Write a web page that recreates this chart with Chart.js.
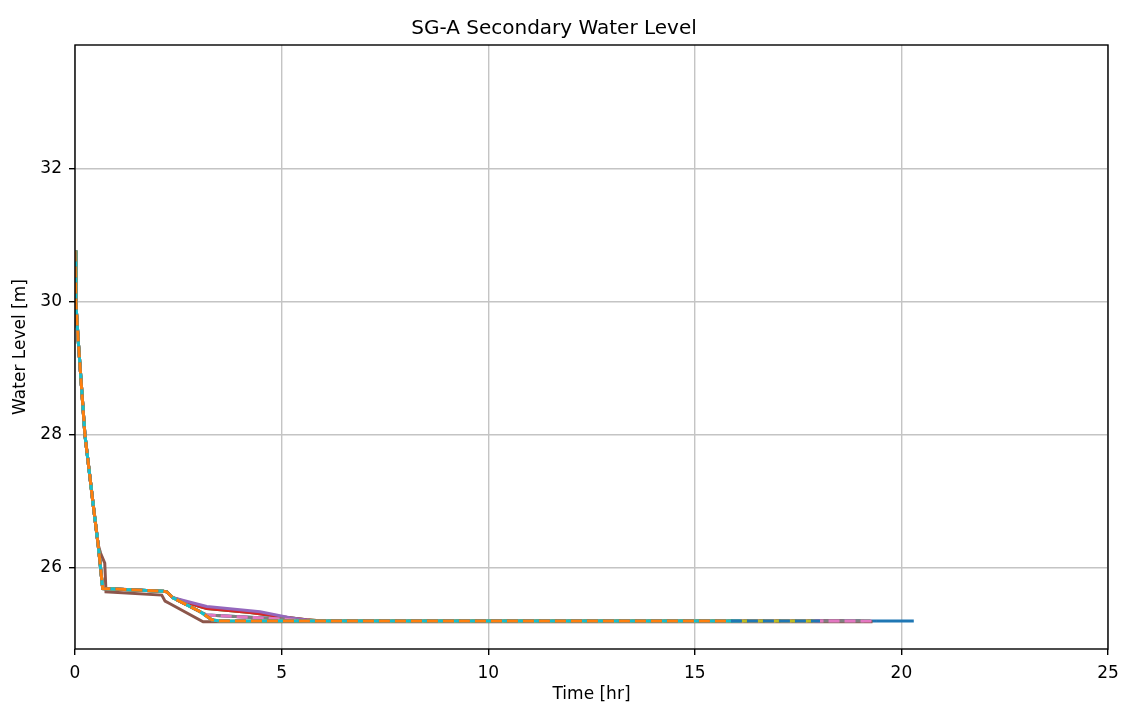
<!DOCTYPE html>
<html>
<head>
<meta charset="utf-8">
<script src="https://cdn.jsdelivr.net/npm/chart.js@4/dist/chart.umd.min.js"></script>
<style>
  html, body { margin: 0; padding: 0; background: #fff; }
  #chart { display: block; }
</style>
</head>
<body>
<canvas id="chart" width="1125" height="709"></canvas>
<script>
// tick labels
const xTicks = [0, 5, 10, 15, 20, 25];
const yTicks = [26, 28, 30, 32];

// each run: time [hr] and water level [m]
const timeLow = [0, 0.02, 0.08, 0.24, 0.45, 0.56, 0.67, 2.13, 2.22, 2.37, 3.03, 3.31, 3.5];
const levelLow = [30.77, 30.0, 29.4, 28.0, 26.9, 26.35, 25.69, 25.65, 25.64, 25.55, 25.34, 25.22, 25.2];

const timeMid = [0, 0.02, 0.08, 0.24, 0.45, 0.56, 0.67, 2.13, 2.22, 2.37, 3.03, 3.19, 5.04, 5.6];
const levelMid = [30.77, 30.0, 29.4, 28.0, 26.9, 26.35, 25.69, 25.65, 25.64, 25.55, 25.34, 25.29, 25.23, 25.2];

const timeGreen = [0, 0.02, 0.08, 0.24, 0.45, 0.56, 0.67, 2.13, 2.22, 2.37, 3.0, 3.19, 4.24, 5.04, 5.6, 6.0];
const levelGreen = [30.77, 30.0, 29.4, 28.0, 26.9, 26.35, 25.69, 25.65, 25.64, 25.55, 25.42, 25.39, 25.33, 25.26, 25.22, 25.2];

const timePurple = [0, 0.02, 0.08, 0.24, 0.45, 0.56, 0.67, 2.13, 2.22, 2.37, 3.0, 3.19, 4.48, 5.2, 5.7, 6.1];
const levelPurple = [30.77, 30.0, 29.4, 28.0, 26.9, 26.35, 25.69, 25.65, 25.64, 25.55, 25.45, 25.42, 25.34, 25.25, 25.21, 25.2];

const timeBrown = [0, 0.02, 0.08, 0.24, 0.45, 0.56, 0.62, 0.72, 0.75, 2.1, 2.18, 2.3, 3.1];
const levelBrown = [30.77, 30.0, 29.4, 28.0, 26.9, 26.35, 26.22, 26.07, 25.64, 25.59, 25.5, 25.46, 25.19];

// time each run stops
const endBlue = 20.3;
const endGreen = 19.25;
const endRed = 18.6;
const endPurple = 19.0;
const endBrown = 19.3;
const endPink = 19.4;
const endGray = 19.1;
const endOlive = 17.9;
const endCyan = 16.1;
const endBlueDash = 18.03;
const endOrange = 15.85;
const finalLevel = 25.2;
const finalLevelBrown = 25.19;

function run(times, levels, end, last) {
  const pts = times.map((t, i) => ({ x: t, y: levels[i] }));
  pts.push({ x: end, y: last });
  return pts;
}

// first entry is drawn on top
const runs = [
  { color: '#ff7f0e', dash: [11, 5], data: run(timeLow, levelLow, endOrange, finalLevel) },
  { color: '#1f77b4', dash: [11, 5], data: run(timeLow, levelLow, endBlueDash, finalLevel) },
  { color: '#17becf', dash: [], data: run(timeLow, levelLow, endCyan, finalLevel) },
  { color: '#bcbd22', dash: [], data: run(timeLow, levelLow, endOlive, finalLevel) },
  { color: '#e377c2', dash: [11, 5], data: run(timeMid, levelMid, endPink, finalLevel) },
  { color: '#7f7f7f', dash: [], data: run(timeMid, levelMid, endGray, finalLevel) },
  { color: '#8c564b', dash: [], data: run(timeBrown, levelBrown, endBrown, finalLevelBrown) },
  { color: '#9467bd', dash: [], data: run(timePurple, levelPurple, endPurple, finalLevel) },
  { color: '#d62728', dash: [], data: run(timeGreen, levelGreen, endRed, finalLevel) },
  { color: '#2ca02c', dash: [], data: run(timeGreen, levelGreen, endGreen, finalLevel) },
  { color: '#1f77b4', dash: [], data: run(timeMid, levelMid, endBlue, finalLevel) }
];

const FONT = "'DejaVu Sans', sans-serif";

const frame = {
  id: 'frame',
  afterDatasetsDraw(chart) {
    const { ctx, chartArea: a } = chart;
    ctx.save();
    ctx.strokeStyle = '#000';
    ctx.lineWidth = 1.4;
    ctx.strokeRect(a.left, a.top, a.right - a.left, a.bottom - a.top);
    ctx.restore();
  }
};

new Chart(document.getElementById('chart'), {
  type: 'line',
  data: {
    datasets: runs.map(r => ({
      data: r.data,
      borderColor: r.color,
      borderDash: r.dash,
      borderWidth: 3,
      pointRadius: 0,
      fill: false,
      tension: 0
    }))
  },
  options: {
    responsive: false,
    animation: false,
    events: [],
    layout: { padding: { left: 0, right: 17, top: 0, bottom: 0 } },
    plugins: {
      legend: { display: false },
      tooltip: { enabled: false },
      title: {
        display: true,
        text: 'SG-A Secondary Water Level',
        color: '#000',
        font: { family: FONT, size: 20, weight: 'normal' },
        padding: { top: 17, bottom: 4 }
      }
    },
    scales: {
      x: {
        type: 'linear',
        min: 0,
        max: 25,
        afterFit: s => { s.height = 60; s.paddingRight = 0; s.paddingLeft = 0; },
        afterBuildTicks: s => { s.ticks = xTicks.map(v => ({ value: v })); },
        ticks: { color: '#000', font: { family: FONT, size: 17 }, padding: 8, maxRotation: 0 },
        grid: { color: '#c4c4c4', lineWidth: 1.4, tickColor: '#000', tickLength: 6, tickWidth: 1.4 },
        border: { display: false },
        title: { display: true, text: 'Time [hr]', color: '#000', font: { family: FONT, size: 17 }, padding: { top: 0, bottom: 4 } }
      },
      y: {
        type: 'linear',
        min: 24.78,
        max: 33.86,
        afterFit: s => { s.width = 75; },
        afterBuildTicks: s => { s.ticks = yTicks.map(v => ({ value: v })); },
        ticks: { color: '#000', font: { family: FONT, size: 17 }, padding: 7 },
        grid: { color: '#c4c4c4', lineWidth: 1.4, tickColor: '#000', tickLength: 6, tickWidth: 1.4 },
        border: { display: false },
        title: { display: true, text: 'Water Level [m]', color: '#000', font: { family: FONT, size: 17 }, padding: { top: 10, bottom: 0 } }
      }
    }
  },
  plugins: [frame]
});
</script>
</body>
</html>
